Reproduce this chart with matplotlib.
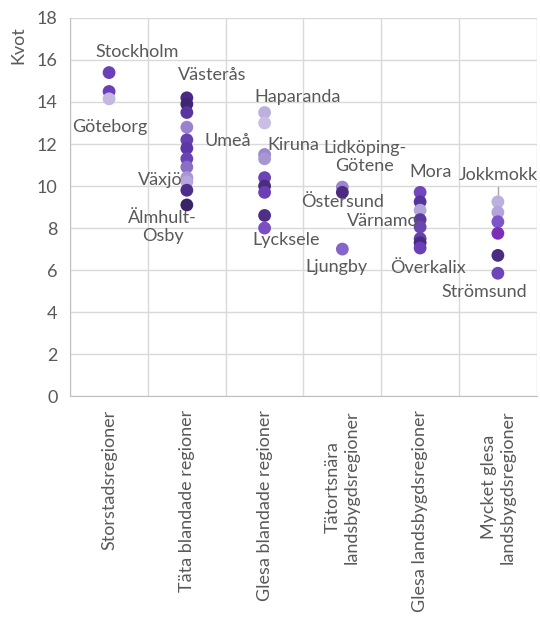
import numpy as np
import matplotlib.pyplot as plt

plt.rcParams['font.family'] = ['Lato', 'DejaVu Sans']

# categories and values (kvot) per region type
categories = ['Storstadsregioner', 'Täta blandade regioner', 'Glesa blandade regioner',
              'Tätortsnära\nlandsbygdsregioner', 'Glesa landsbygdsregioner',
              'Mycket glesa\nlandsbygdsregioner']

storstad = [15.4, 14.5, 14.15]
tata = [14.2, 13.9, 13.5, 12.8, 12.2, 11.8, 11.3, 10.9, 10.4, 10.2, 9.8, 9.1]
glesa_bl = [13.5, 13.0, 11.5, 11.3, 10.4, 10.0, 9.7, 8.6, 8.0]
tatortsnara = [9.95, 9.7, 7.0]
glesa_land = [9.7, 9.25, 8.85, 8.4, 8.05, 7.5, 7.3, 7.05]
mycket = [9.25, 8.75, 8.3, 7.75, 6.7, 5.85]
series = [storstad, tata, glesa_bl, tatortsnara, glesa_land, mycket]

colors = [
    ['#6B3FB8', '#6B3FB8', '#C4B8E0'],
    ['#4A2A85', '#3E2670', '#5A35A0', '#9A82CC', '#6840B0', '#5C37A5',
     '#6A44B5', '#8A70C5', '#A995D6', '#B7A6DD', '#4E2E8C', '#3A2468'],
    ['#BDB0DE', '#C9BFE4', '#9C88CC', '#A895D4', '#6D43B8', '#4A2C80',
     '#6A40B4', '#4D2F8A', '#7A4FC5'],
    ['#9A84CF', '#4A2C80', '#8665C8'],
    ['#7346BE', '#56349C', '#B5A6DA', '#5B399F', '#6A46AE', '#6640B0',
     '#47297F', '#6A3FB8'],
    ['#BCB0DD', '#B3A4DA', '#7B55C9', '#7B2FB5', '#4A2C80', '#6B45B9'],
]

# point labels: (text, x in category units, value)
labels = [
    ('Stockholm', 0.36, 16.38), ('Göteborg', 0.01, 12.81),
    ('Västerås', 1.33, 15.29), ('Umeå', 1.52, 12.14),
    ('Växjö', 0.66, 10.29), ('Älmhult-\nOsby', 0.69, 8.07),
    ('Haparanda', 2.43, 14.24), ('Kiruna', 2.37, 11.95),
    ('Lidköping-\nGötene', 3.29, 11.36), ('Östersund', 3.0, 9.24),
    ('Värnamo', 3.52, 8.33), ('Lycksele', 2.28, 7.43),
    ('Ljungby', 2.93, 6.14), ('Mora', 4.13, 10.67),
    ('Jokkmokk', 5.01, 10.52), ('Överkalix', 4.1, 6.1),
    ('Strömsund', 4.82, 4.95),
]

txt = '#595959'
grid = '#d9d9d9'
fs = 13

fig = plt.figure(figsize=(5.4, 6.19), dpi=100)
ax = fig.add_axes([0.13, 0.36, 0.864, 0.611])

for i, vals in enumerate(series):
    ax.scatter([i] * len(vals), vals, s=85, c=colors[i], linewidths=0, zorder=3)

for t, x, y in labels:
    ax.text(x, y, t, ha='center', va='center', fontsize=fs, color=txt,
            linespacing=1.15, zorder=4)

# leader line for Jokkmokk
ax.plot([5, 5], [mycket[0] + 0.1, mycket[0] + 0.7], color='#a6a6a6', lw=1, zorder=2)

ax.set_xlim(-0.5, 5.5)
ax.set_ylim(0, 18)
ax.set_yticks(np.arange(0, 19, 2))
ax.set_xticks(range(len(categories)))
ax.set_xticklabels(categories, rotation=90, ha='center', va='top',
                   multialignment='center', fontsize=fs, color=txt)
ax.set_xticks(np.arange(-0.5, 6, 1), minor=True)
ax.tick_params(axis='x', which='both', length=0, pad=10)
ax.tick_params(axis='y', length=0, labelsize=fs, labelcolor=txt, pad=9)
ax.grid(axis='y', which='major', color=grid, lw=1)
ax.grid(axis='x', which='minor', color=grid, lw=1)
ax.set_axisbelow(True)
for d in ['top', 'right']:
    ax.spines[d].set_visible(False)
for d in ['left', 'bottom']:
    ax.spines[d].set_color('#bfbfbf')

fig.text(18 / 540, 1 - 45 / 619, 'Kvot', rotation=90, ha='center', va='center',
         fontsize=fs, color=txt)

fig.savefig('out.png', dpi=100)
